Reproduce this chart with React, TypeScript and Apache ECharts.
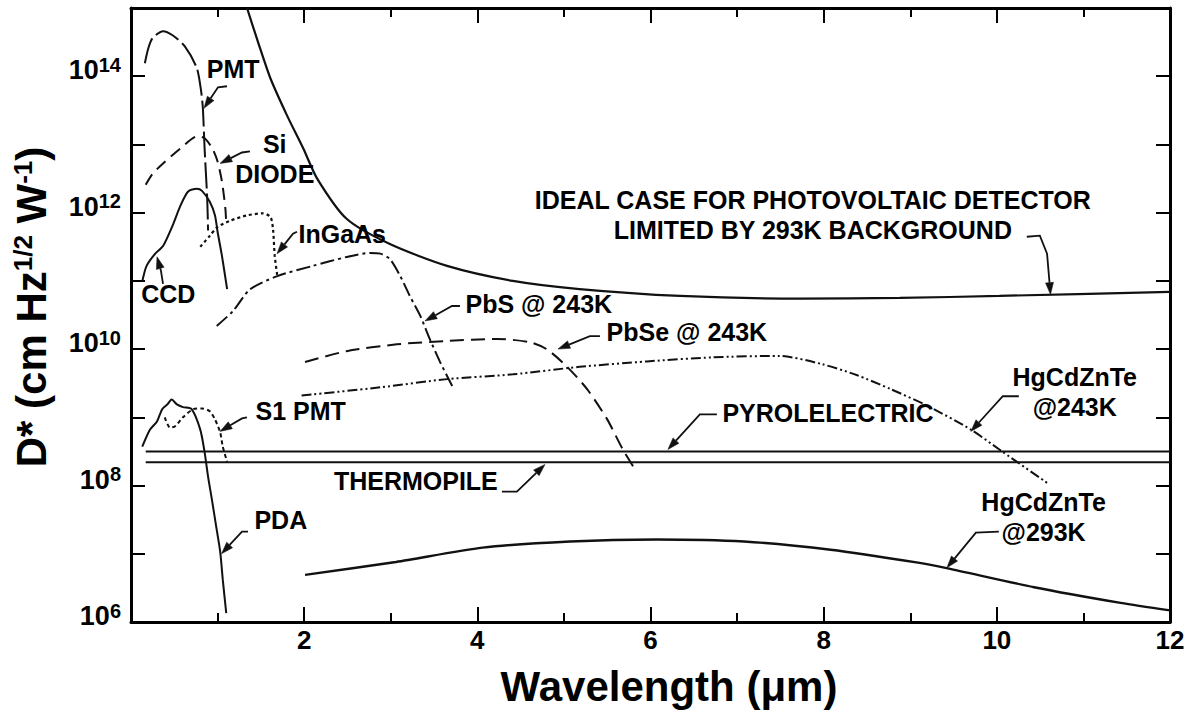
import React, { useEffect, useRef } from 'react';
import * as echarts from 'echarts';

const FONT = '"Liberation Sans", Arial, Helvetica, sans-serif';
const INK = '#111';

// Each curve: [wavelength in µm, log10 of D* in cm Hz^1/2 W^-1]
type Pt = [number, number];

const idealPV: Pt[] = [
  [1.34, 15.0], [1.47, 14.49], [1.61, 13.97], [1.8, 13.43], [1.99, 12.94], [2.15, 12.5],
  [2.49, 11.91], [2.99, 11.54], [3.65, 11.22], [4.41, 11.0], [5.18, 10.88], [6.34, 10.78],
  [7.73, 10.74], [8.88, 10.75], [10.03, 10.78], [12.0, 10.84],
];
const pmt: Pt[] = [
  [0.16, 14.19], [0.2, 14.41], [0.25, 14.56], [0.37, 14.66], [0.48, 14.6], [0.62, 14.44],
  [0.76, 14.12], [0.81, 13.78], [0.83, 13.53], [0.85, 12.94], [0.88, 12.21], [0.89, 11.74],
];
const siDiode: Pt[] = [
  [0.17, 12.41], [0.25, 12.57], [0.37, 12.72], [0.57, 12.94], [0.77, 13.12], [0.85, 13.09],
  [0.94, 12.94], [1.0, 12.75], [1.05, 12.46], [1.09, 12.06], [1.1, 11.84],
];
const ccd: Pt[] = [
  [0.13, 10.99], [0.18, 11.22], [0.28, 11.4], [0.37, 11.51], [0.48, 11.81], [0.57, 12.1],
  [0.66, 12.31], [0.76, 12.35], [0.82, 12.32], [0.91, 12.16], [0.97, 11.96], [1.0, 11.72],
  [1.05, 11.37], [1.11, 10.88],
];
const ingaas: Pt[] = [
  [0.8, 11.5], [0.91, 11.66], [1.0, 11.79], [1.14, 11.88], [1.34, 11.96], [1.52, 11.99],
  [1.61, 11.94], [1.64, 11.76], [1.66, 11.37], [1.69, 11.07],
];
const pbs243: Pt[] = [
  [0.99, 10.34], [1.18, 10.56], [1.37, 10.87], [1.69, 11.07], [2.1, 11.22], [2.49, 11.35],
  [2.76, 11.41], [2.88, 11.4], [2.99, 11.32], [3.11, 11.07], [3.22, 10.78], [3.34, 10.49],
  [3.45, 10.15], [3.57, 9.81], [3.71, 9.46],
];
const pbse243: Pt[] = [
  [2.01, 9.81], [2.49, 9.97], [3.07, 10.07], [3.65, 10.12], [4.23, 10.15], [4.61, 10.1],
  [4.8, 10.0], [5.03, 9.75], [5.27, 9.41], [5.5, 8.97], [5.68, 8.53], [5.82, 8.24],
];
const hgcdznte243: Pt[] = [
  [1.97, 9.32], [2.88, 9.44], [3.65, 9.56], [4.41, 9.63], [5.18, 9.74], [5.96, 9.82],
  [6.72, 9.88], [7.49, 9.9], [7.98, 9.78], [8.38, 9.62], [8.78, 9.41], [9.18, 9.18],
  [9.7, 8.82], [10.06, 8.5], [10.58, 8.04],
];
const s1Pmt: Pt[] = [
  [0.39, 9.0], [0.45, 8.85], [0.51, 8.87], [0.6, 9.0], [0.72, 9.12], [0.82, 9.13],
  [0.91, 9.09], [0.97, 8.97], [1.03, 8.78], [1.06, 8.57], [1.11, 8.35],
];
const pda: Pt[] = [
  [0.13, 8.57], [0.22, 8.82], [0.3, 8.94], [0.36, 9.12], [0.42, 9.19], [0.47, 9.26],
  [0.53, 9.19], [0.6, 9.15], [0.7, 9.12], [0.8, 8.82], [0.85, 8.49], [0.89, 8.13],
  [0.935, 7.79], [0.98, 7.43], [1.03, 7.03], [1.06, 6.62], [1.1, 6.13],
];
const pyroelectric: Pt[] = [[0.17, 8.5], [12.0, 8.5]];
const thermopile: Pt[] = [[0.17, 8.34], [12.0, 8.34]];
const hgcdznte293: Pt[] = [
  [2.01, 6.69], [3.06, 6.88], [4.06, 7.09], [5.07, 7.18], [6.07, 7.21], [7.08, 7.18],
  [8.08, 7.06], [9.09, 6.87], [9.42, 6.79], [10.43, 6.51], [11.43, 6.28], [12.0, 6.17],
];

// Curve labels and their centres [µm, log10 D*]
const labelTexts = [
  'PMT', 'Si\nDIODE', 'InGaAs', 'CCD', 'PbS @ 243K', 'PbSe @ 243K', 'S1 PMT', 'PDA',
  'THERMOPILE', 'PYROLELECTRIC', 'HgCdZnTe\n@243K', 'HgCdZnTe\n@293K',
  'IDEAL CASE FOR PHOTOVOLTAIC DETECTOR\nLIMITED BY 293K BACKGROUND',
];
const labelAnchors: Pt[] = [
  [1.18, 14.1], [1.66, 12.79], [2.44, 11.68], [0.43, 10.81], [4.71, 10.66], [6.42, 10.25],
  [1.96, 9.1], [1.73, 7.49], [3.29, 8.07], [8.05, 9.07], [10.9, 9.375], [10.54, 7.54],
  [7.875, 11.97],
];

// Leader lines from each label to its curve; the last point is the arrow tip
const leaderPaths: Pt[][] = [
  [[1.109, 13.853], [1.005, 13.838], [0.843, 13.529]],
  [[1.374, 12.897], [1.282, 12.882], [1.028, 12.721]],
  [[1.917, 11.721], [1.871, 11.691], [1.686, 11.397]],
  [[0.37, 10.956], [0.346, 11.147], [0.3, 11.353]],
  [[3.799, 10.632], [3.707, 10.632], [3.395, 10.412]],
  [[5.416, 10.191], [5.3, 10.191], [4.931, 10.0]],
  [[1.339, 9.0], [1.282, 8.985], [1.028, 8.794]],
  [[1.351, 7.324], [1.282, 7.324], [1.045, 7.0]],
  [[4.284, 7.912], [4.457, 7.912], [4.781, 8.309]],
  [[6.767, 9.044], [6.57, 9.044], [6.201, 8.529]],
  [[10.254, 9.309], [10.069, 9.309], [9.7, 8.794]],
  [[10.023, 7.324], [9.758, 7.309], [9.423, 6.794]],
  [[10.346, 11.647], [10.497, 11.662], [10.58, 11.4], [10.62, 10.8]],
];

const xTicks = [0, 12, 2];
const yDecades = [6, 15];

const toValues = (pts: Pt[]) => pts.map(([x, e]) => [x, Math.pow(10, e)]);

const curves: { name: string; data: Pt[]; dash: any; width: number }[] = [
  { name: 'Ideal PV, 293K background', data: idealPV, dash: 'solid', width: 2.2 },
  { name: 'PMT', data: pmt, dash: [26, 5], width: 2 },
  { name: 'Si diode', data: siDiode, dash: [12, 7], width: 2 },
  { name: 'CCD', data: ccd, dash: 'solid', width: 2 },
  { name: 'InGaAs', data: ingaas, dash: [3, 3], width: 2.2 },
  { name: 'PbS @ 243K', data: pbs243, dash: [14, 4, 3, 4], width: 2 },
  { name: 'PbSe @ 243K', data: pbse243, dash: [14, 7], width: 2 },
  { name: 'HgCdZnTe @243K', data: hgcdznte243, dash: [10, 3, 2, 3, 2, 3], width: 2 },
  { name: 'S1 PMT', data: s1Pmt, dash: [4, 3], width: 2 },
  { name: 'PDA', data: pda, dash: 'solid', width: 2 },
  { name: 'Pyroelectric', data: pyroelectric, dash: 'solid', width: 2 },
  { name: 'Thermopile', data: thermopile, dash: 'solid', width: 2 },
  { name: 'HgCdZnTe @293K', data: hgcdznte293, dash: 'solid', width: 2.4 },
];

const frameLine = { onZero: false, lineStyle: { color: '#000', width: 3 } };
const tickStyle = { color: '#000', width: 2 };

export default function App() {
  const ref = useRef<HTMLDivElement>(null);

  useEffect(() => {
    if (!ref.current) return;
    const chart = echarts.init(ref.current, undefined, { renderer: 'svg' });

    const xAxisBase = {
      type: 'value',
      min: xTicks[0],
      max: xTicks[1],
      interval: xTicks[2],
      axisLine: frameLine,
      axisTick: { inside: true, length: 15, lineStyle: tickStyle },
      minorTick: { show: true, splitNumber: 2, length: 9, lineStyle: tickStyle },
      splitLine: { show: false },
      minorSplitLine: { show: false },
    };
    const yAxisBase = {
      type: 'log',
      logBase: 10,
      min: Math.pow(10, yDecades[0]),
      max: Math.pow(10, yDecades[1]),
      splitNumber: yDecades[1] - yDecades[0],
      axisLine: frameLine,
      axisTick: { inside: true, length: 14, lineStyle: tickStyle },
      splitLine: { show: false },
    };

    const option: any = {
      animation: false,
      backgroundColor: '#fff',
      grid: { left: 131, right: 18, top: 8, bottom: 91, containLabel: false, outerBoundsMode: 'none' },
      xAxis: [
        {
          ...xAxisBase,
          position: 'bottom',
          axisLabel: {
            formatter: (v: number) => (v === 0 ? '' : String(v)),
            color: '#000',
            fontSize: 26,
            fontWeight: 'bold',
            fontFamily: FONT,
            margin: 5,
          },
        },
        { ...xAxisBase, position: 'top', axisLabel: { show: false } },
      ],
      yAxis: [
        {
          ...yAxisBase,
          position: 'left',
          axisLabel: {
            margin: 10,
            padding: [0, 0, 12, 0],
            color: '#000',
            fontSize: 27,
            fontWeight: 'bold',
            fontFamily: FONT,
            formatter: (v: number) => {
              const e = Math.round(Math.log10(v));
              return e % 2 === 0 ? `{b|10}{s|${e}}` : '';
            },
            rich: {
              b: { fontSize: 27, fontWeight: 'bold', fontFamily: FONT, color: '#000', lineHeight: 31 },
              s: { fontSize: 20, fontWeight: 'bold', fontFamily: FONT, color: '#000', verticalAlign: 'top', lineHeight: 20 },
            },
          },
        },
        { ...yAxisBase, position: 'right', axisLabel: { show: false } },
      ],
      graphic: [
        {
          type: 'text',
          x: 31,
          y: 307,
          rotation: Math.PI / 2,
          silent: true,
          style: {
            text: '{a|D* (cm Hz}{s|1/2}{a| W}{s|-1}{a|)}',
            align: 'center',
            verticalAlign: 'middle',
            textAlign: 'center',
            textVerticalAlign: 'middle',
            rich: {
              a: { fontSize: 42, fontWeight: 'bold', fontFamily: FONT, fill: '#000', color: '#000' },
              s: { fontSize: 26, fontWeight: 'bold', fontFamily: FONT, fill: '#000', color: '#000', verticalAlign: 'top' },
            },
          },
        },
        {
          type: 'text',
          x: 669,
          y: 686,
          silent: true,
          style: {
            text: 'Wavelength (\u03bcm)',
            font: `bold 42px ${FONT}`,
            fill: '#000',
            align: 'center',
            verticalAlign: 'middle',
            textAlign: 'center',
            textVerticalAlign: 'middle',
          },
        },
      ],
      series: [
        ...curves.map((c) => ({
          name: c.name,
          type: 'line',
          data: toValues(c.data),
          showSymbol: false,
          symbol: 'none',
          smooth: 0.25,
          silent: true,
          lineStyle: { color: INK, width: c.width, type: c.dash },
        })),
        {
          name: 'leaders',
          type: 'custom',
          silent: true,
          clip: false,
          z: 5,
          data: toValues(leaderPaths.map((p) => p[p.length - 1])),
          renderItem: (params: any, api: any) => {
            const path = leaderPaths[params.dataIndex];
            const pts = path.map(([x, e]) => api.coord([x, Math.pow(10, e)]));
            const tip = pts[pts.length - 1];
            const prev = pts[pts.length - 2];
            const ang = Math.atan2(tip[1] - prev[1], tip[0] - prev[0]);
            const len = 12;
            const half = 4;
            const base = [tip[0] - len * Math.cos(ang), tip[1] - len * Math.sin(ang)];
            const left = [base[0] + half * Math.sin(ang), base[1] - half * Math.cos(ang)];
            const right = [base[0] - half * Math.sin(ang), base[1] + half * Math.cos(ang)];
            return {
              type: 'group',
              children: [
                {
                  type: 'polyline',
                  shape: { points: pts.slice(0, -1).concat([base]) },
                  style: { stroke: INK, lineWidth: 1.8, fill: 'none' },
                },
                {
                  type: 'polygon',
                  shape: { points: [tip, left, right] },
                  style: { fill: INK, stroke: INK, lineWidth: 0.5 },
                },
              ],
            };
          },
        },
        {
          name: 'labels',
          type: 'custom',
          silent: true,
          clip: false,
          z: 6,
          data: toValues(labelAnchors),
          renderItem: (params: any, api: any) => {
            const [x, e] = labelAnchors[params.dataIndex];
            const p = api.coord([x, Math.pow(10, e)]);
            return {
              type: 'text',
              x: p[0],
              y: p[1],
              style: {
                text: labelTexts[params.dataIndex],
                font: `bold 25px ${FONT}`,
                fill: '#000',
                align: 'center',
                verticalAlign: 'middle',
                textAlign: 'center',
                textVerticalAlign: 'middle',
                lineHeight: 30,
              },
            };
          },
        },
      ],
    };

    chart.setOption(option);
    return () => chart.dispose();
  }, []);

  return (
    <div
      ref={ref}
      style={{ position: 'fixed', left: 0, top: 0, width: 1188, height: 713, background: '#fff' }}
    />
  );
}
